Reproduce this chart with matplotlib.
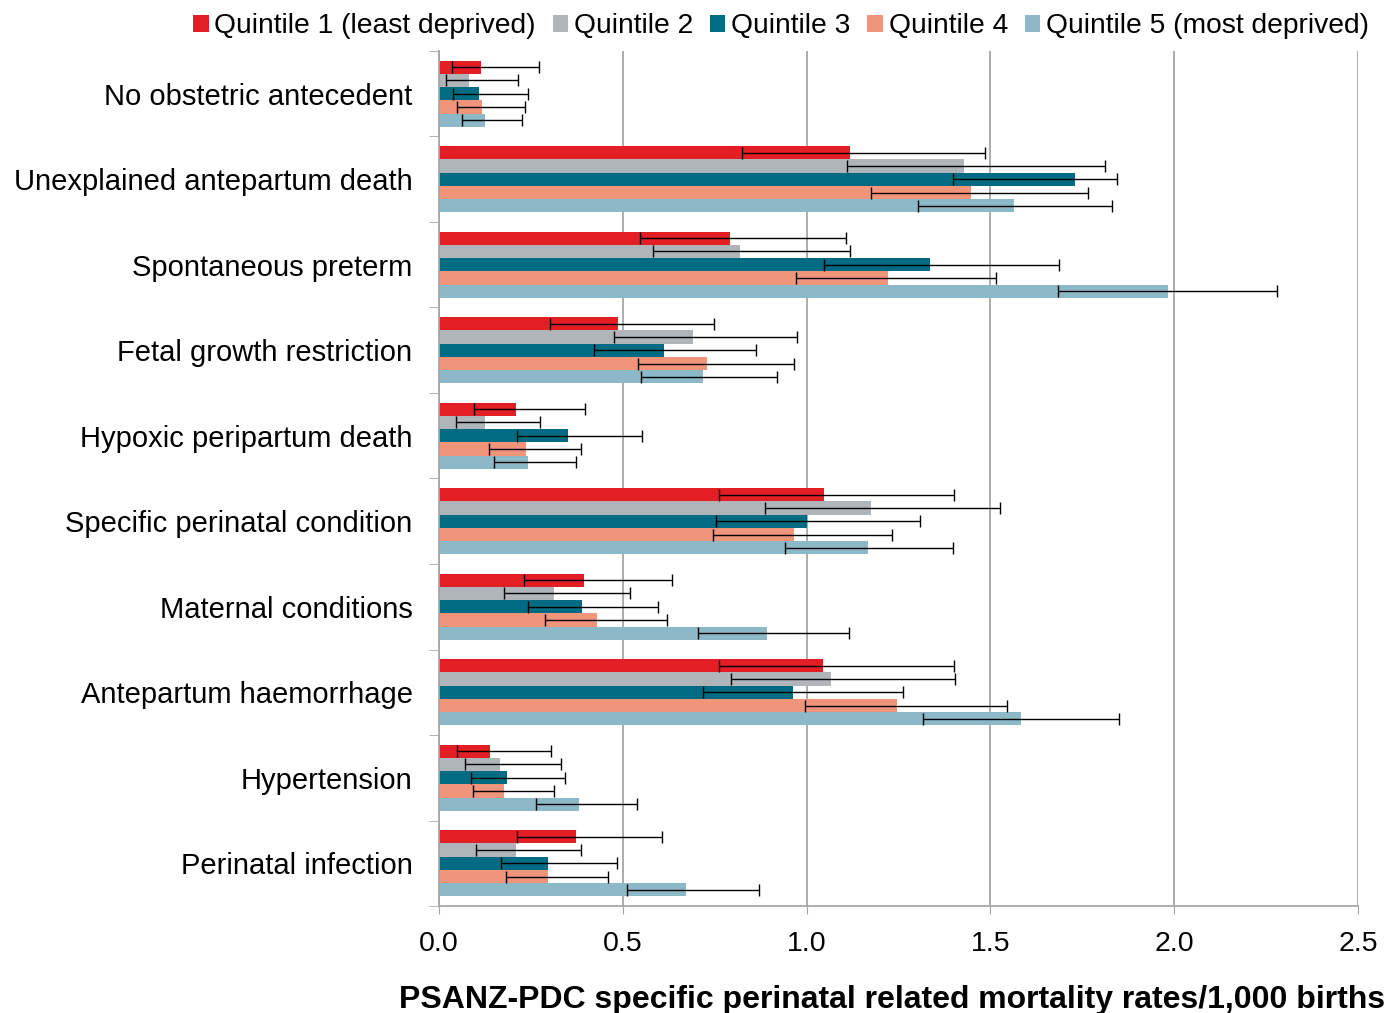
import matplotlib
matplotlib.use("Agg")
import matplotlib.pyplot as plt
import numpy as np

plt.rcParams['font.family'] = ['Liberation Sans', 'DejaVu Sans']

categories = ["No obstetric antecedent", "Unexplained antepartum death", "Spontaneous preterm",
              "Fetal growth restriction", "Hypoxic peripartum death", "Specific perinatal condition",
              "Maternal conditions", "Antepartum haemorrhage", "Hypertension", "Perinatal infection"]
series = ["Quintile 1 (least deprived)", "Quintile 2", "Quintile 3", "Quintile 4",
          "Quintile 5 (most deprived)"]
colors = ["#E31E24", "#B0B5BA", "#006B82", "#F0947A", "#8CB8C8"]

q1 = [0.114, 1.118, 0.791, 0.488, 0.209, 1.047, 0.395, 1.045, 0.139, 0.372]
q2 = [0.082, 1.428, 0.818, 0.692, 0.124, 1.174, 0.314, 1.067, 0.167, 0.209]
q3 = [0.109, 1.730, 1.337, 0.612, 0.352, 1.001, 0.389, 0.963, 0.185, 0.296]
q4 = [0.117, 1.446, 1.221, 0.728, 0.238, 0.966, 0.430, 1.247, 0.178, 0.297]
q5 = [0.125, 1.564, 1.984, 0.717, 0.242, 1.168, 0.892, 1.582, 0.382, 0.672]

q1_lo = [0.035, 0.825, 0.548, 0.302, 0.095, 0.763, 0.230, 0.762, 0.050, 0.212]
q2_lo = [0.020, 1.109, 0.581, 0.476, 0.045, 0.888, 0.176, 0.794, 0.071, 0.100]
q3_lo = [0.038, 1.397, 1.046, 0.421, 0.212, 0.753, 0.241, 0.719, 0.088, 0.170]
q4_lo = [0.050, 1.174, 0.970, 0.540, 0.136, 0.746, 0.288, 0.995, 0.093, 0.183]
q5_lo = [0.063, 1.302, 1.685, 0.550, 0.150, 0.942, 0.704, 1.318, 0.263, 0.512]

q1_hi = [0.272, 1.484, 1.107, 0.747, 0.398, 1.402, 0.634, 1.400, 0.304, 0.606]
q2_hi = [0.215, 1.813, 1.119, 0.973, 0.274, 1.526, 0.520, 1.405, 0.331, 0.387]
q3_hi = [0.242, 1.844, 1.687, 0.861, 0.552, 1.308, 0.596, 1.263, 0.342, 0.484]
q4_hi = [0.234, 1.765, 1.516, 0.965, 0.387, 1.233, 0.620, 1.546, 0.312, 0.461]
q5_hi = [0.226, 1.831, 2.281, 0.920, 0.372, 1.397, 1.114, 1.850, 0.538, 0.870]

values = [q1, q2, q3, q4, q5]
lows = [q1_lo, q2_lo, q3_lo, q4_lo, q5_lo]
highs = [q1_hi, q2_hi, q3_hi, q4_hi, q5_hi]

xticks = [0.0, 0.5, 1.0, 1.5, 2.0, 2.5]
xlabel = "PSANZ-PDC specific perinatal related mortality rates/1,000 births"

fig = plt.figure(figsize=(13.9, 10.13), dpi=100)
ax = fig.add_axes([439/1390, 1 - 906/1013, (1358-439)/1390, (906-51)/1013])

n = len(categories)
bh = 0.155
y = np.arange(n)
handles = []
for i in range(5):
    v = np.array(values[i]); lo = np.array(lows[i]); hi = np.array(highs[i])
    pos = y - 2*bh + i*bh
    b = ax.barh(pos, v, height=bh, color=colors[i], label=series[i], zorder=2)
    ax.errorbar(v, pos, xerr=[v - lo, hi - v], fmt='none', ecolor='black',
                elinewidth=1.0, capsize=4.5, capthick=1.0, zorder=3)
    handles.append(b)

ax.set_xlim(0, 2.5)
ax.set_ylim(n - 0.5, -0.5)
ax.set_xticks(xticks)
ax.set_xticklabels([f"{t:.1f}" for t in xticks], fontsize=20.5)
ax.tick_params(axis='x', length=6, color='#A6A6A6', pad=12)
ax.set_yticks(y)
ax.set_yticklabels(categories, fontsize=21)
ax.tick_params(axis='y', length=0, pad=19)
ax.set_yticks(np.arange(n + 1) - 0.5, minor=True)
ax.tick_params(axis='y', which='minor', length=7, color='#A6A6A6')
ax.grid(axis='x', color='#A6A6A6', linewidth=1.3, zorder=0)
ax.set_axisbelow(True)
for s in ['top', 'right']:
    ax.spines[s].set_visible(False)
for s in ['left', 'bottom']:
    ax.spines[s].set_color('#A6A6A6')
    ax.spines[s].set_linewidth(1.3)

fig.legend(handles=handles, labels=series, loc='center', bbox_to_anchor=(781/1390, 1 - 26/1013),
           ncol=5, frameon=False, fontsize=20.3, handlelength=0.55, handleheight=0.55,
           handletextpad=0.2, columnspacing=0.6, borderaxespad=0)

fig.text(892/1390, 1 - 1000/1013, xlabel, ha='center', va='center', fontsize=23, fontweight='bold')

fig.savefig("out.png", dpi=100)
